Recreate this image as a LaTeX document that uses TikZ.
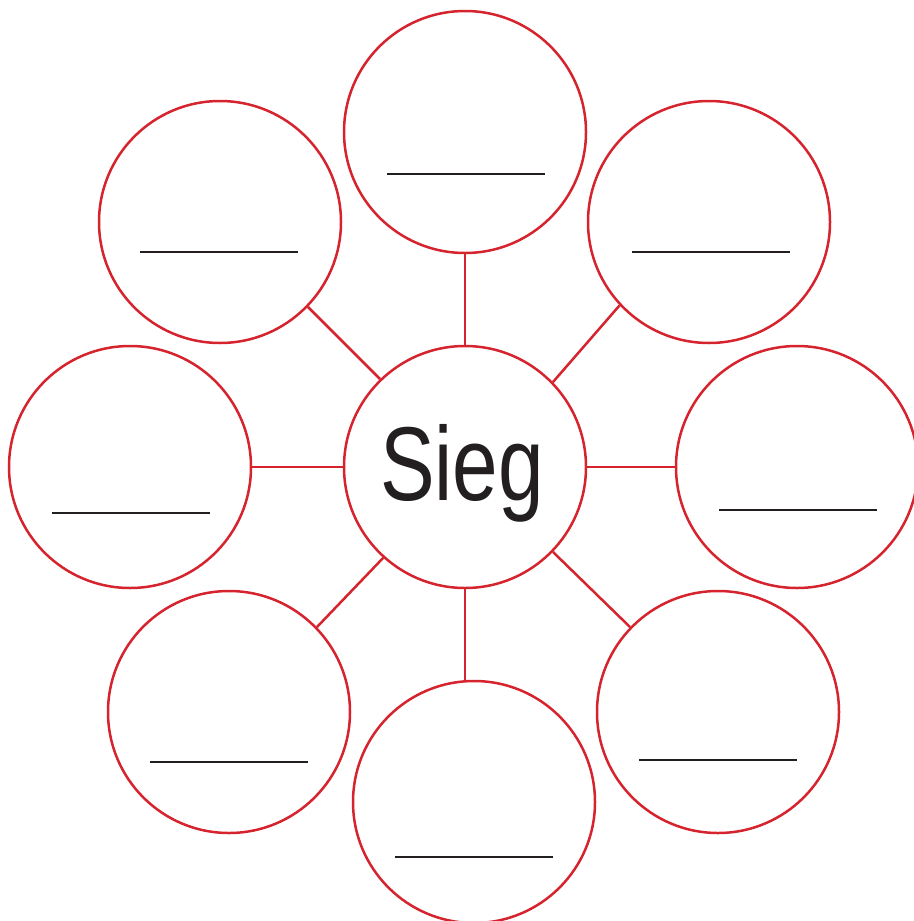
\documentclass[tikz,border=0pt]{standalone}
\usepackage{fontspec}
\setmainfont{Liberation Sans}
\definecolor{ringred}{RGB}{214,36,46}
\definecolor{inkgray}{RGB}{35,31,32}
\tikzset{
  ring/.style={circle, draw=ringred, line width=2.5pt, fill=white, minimum size=242pt, inner sep=0pt},
  spoke/.style={draw=ringred, line width=2.5pt},
  blank/.style={draw=inkgray, line width=2.7pt}
}
\begin{document}
\begin{tikzpicture}[x=1pt, y=-1pt]
  \useasboundingbox (0,0) rectangle (913,921);

  % hub and surrounding rings
  \node[ring] (hub) at (465,467) {};
  \node[ring] (n)  at (465,132) {};
  \node[ring] (nw) at (220,222) {};
  \node[ring] (ne) at (709,222) {};
  \node[ring] (w)  at (130,467) {};
  \node[ring] (e)  at (797,467) {};
  \node[ring] (sw) at (229,712) {};
  \node[ring] (s)  at (474,802) {};
  \node[ring] (se) at (718,712) {};

  % spokes from the hub
  \draw[spoke] (hub.north) -- (n.south);
  \draw[spoke] (hub.134) -- (nw.-44);
  \draw[spoke] (hub.44) -- (ne.-137);
  \draw[spoke] (hub.west) -- (w.east);
  \draw[spoke] (hub.east) -- (e.west);
  \draw[spoke] (hub.-132) -- (sw.44);
  \draw[spoke] (hub.south) -- (hub.south |- s.north);
  \draw[spoke] (hub.-44) -- (se.136);

  % hub label
  \node[anchor=base, inner sep=0pt, text=inkgray, font=\fontsize{105}{105}\selectfont] (lbl) at (462,500) {\scalebox{0.78}[1]{Sieg}};

  % answer blanks
  \draw[blank] ([shift={(-78,42)}]n.center)  -- ++(158,0);
  \draw[blank] ([shift={(-80,30)}]nw.center) -- ++(158,0);
  \draw[blank] ([shift={(-77,30)}]ne.center) -- ++(158,0);
  \draw[blank] ([shift={(-78,46)}]w.center)  -- ++(158,0);
  \draw[blank] ([shift={(-78,43)}]e.center)  -- ++(158,0);
  \draw[blank] ([shift={(-79,50)}]sw.center) -- ++(158,0);
  \draw[blank] ([shift={(-79,55)}]s.center)  -- ++(158,0);
  \draw[blank] ([shift={(-79,48)}]se.center) -- ++(158,0);
\end{tikzpicture}
\end{document}
